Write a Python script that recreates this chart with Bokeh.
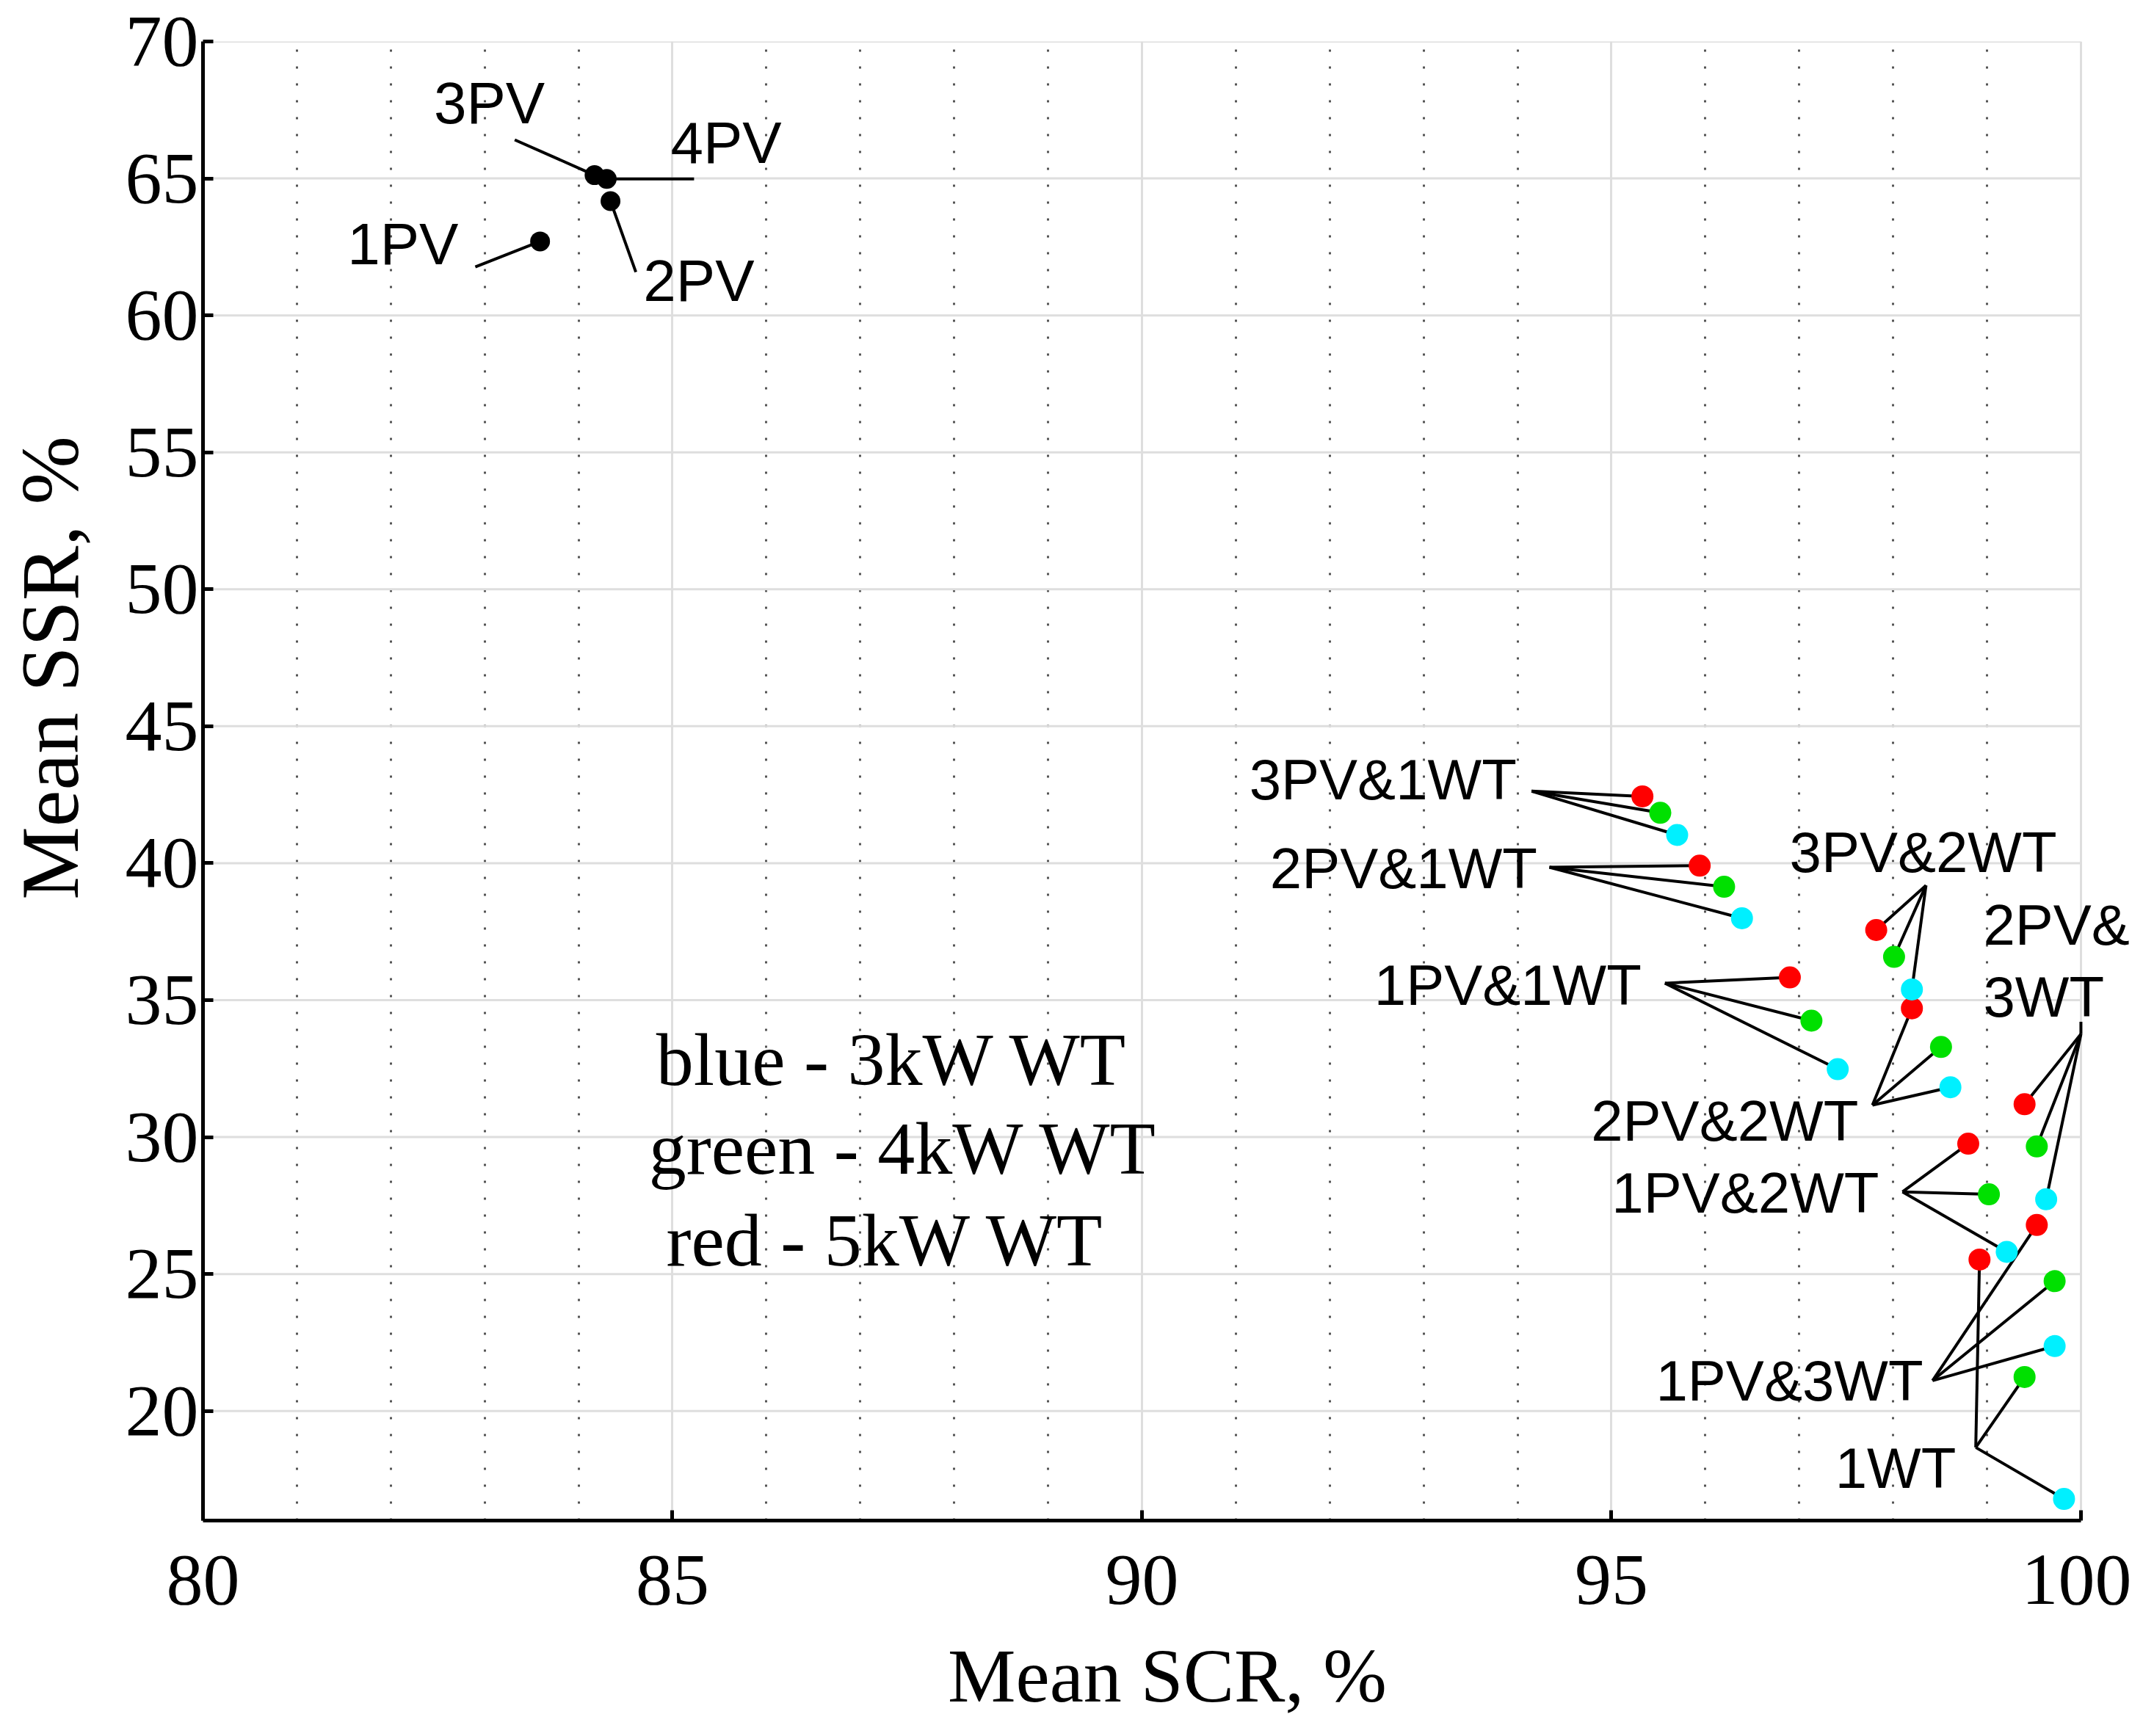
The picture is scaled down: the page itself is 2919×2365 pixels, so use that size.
from bokeh.plotting import figure
from bokeh.models import Range1d, FixedTicker
from bokeh.core.properties import value
from bokeh.embed import file_html
from bokeh.resources import INLINE

# 1. data
groups = ["3PV&1WT", "2PV&1WT", "1PV&1WT", "3PV&2WT", "2PV&2WT",
          "1PV&2WT", "2PV&3WT", "1PV&3WT", "1WT"]

# red - 5kW WT
scr_5kw = [95.33, 95.94, 96.90, 97.82, 98.20, 98.80, 99.40, 99.53, 98.92]
ssr_5kw = [42.44, 39.91, 35.83, 37.56, 34.70, 29.76, 31.20, 26.79, 25.53]
# green - 4kW WT
scr_4kw = [95.52, 96.20, 97.13, 98.01, 98.51, 99.02, 99.53, 99.72, 99.40]
ssr_4kw = [41.84, 39.14, 34.25, 36.58, 33.29, 27.91, 29.66, 24.74, 21.24]
# blue - 3kW WT
scr_3kw = [95.70, 96.39, 97.41, 98.20, 98.61, 99.21, 99.63, 99.72, 99.82]
ssr_3kw = [41.03, 37.99, 32.48, 35.39, 31.82, 25.81, 27.73, 22.37, 16.79]

# where the leader lines of each group meet
anchor_x = [94.15, 94.34, 95.57, 98.35, 97.78, 98.10, 100.0, 98.42, 98.88]
anchor_y = [42.63, 39.85, 35.62, 39.19, 31.17, 28.00, 33.76, 21.11, 18.67]

# PV only systems
pv_labels = ["1PV", "2PV", "3PV", "4PV"]
pv_scr = [83.59, 84.34, 84.17, 84.30]
pv_ssr = [62.70, 64.17, 65.12, 64.98]
pv_anchor_x = [82.90, 84.61, 83.32, 85.23]
pv_anchor_y = [61.77, 61.58, 66.41, 64.98]

x_ticks = [80, 85, 90, 95, 100]
x_minor = [81, 82, 83, 84, 86, 87, 88, 89, 91, 92, 93, 94, 96, 97, 98, 99]
y_ticks = [20, 25, 30, 35, 40, 45, 50, 55, 60, 65, 70]

SANS = value("Liberation Sans")
SERIF = "Liberation Serif"

# x range runs a bit past 100 so the "2PV&" label is not cut at the frame
p = figure(width=2903, height=2345, output_backend="svg", toolbar_location=None,
           x_range=Range1d(80, 100.54), y_range=Range1d(16, 70),
           min_border_left=276, min_border_right=0, min_border_top=56,
           min_border_bottom=274)
p.outline_line_color = None
p.background_fill_color = "white"

# axes
for ax in (p.xaxis[0], p.yaxis[0]):
    ax.axis_line_color = "black"
    ax.axis_line_width = 5
    ax.major_tick_line_color = "black"
    ax.major_tick_line_width = 5
    ax.major_tick_in = 14
    ax.major_tick_out = 0
    ax.minor_tick_line_color = None
    ax.major_label_text_font = SERIF
    ax.major_label_text_font_size = "100px"
    ax.major_label_text_color = "black"
    ax.axis_label_text_font = SERIF
    ax.axis_label_text_font_style = "normal"
    ax.axis_label_text_color = "black"
p.xaxis.bounds = (80, 100)
p.xaxis.ticker = FixedTicker(ticks=x_ticks)
p.yaxis.ticker = FixedTicker(ticks=y_ticks)
p.xaxis.major_label_standoff = 48
p.yaxis.major_label_standoff = 6
p.xaxis.axis_label = "Mean SCR, %"
p.xaxis.axis_label_text_font_size = "104px"
p.xaxis.axis_label_standoff = 37
# leading no-break spaces lift the y label above the middle, as in the original
p.yaxis.axis_label = "\u00a0" * 11 + "Mean SSR, %"
p.yaxis.axis_label_text_font_size = "112px"
p.yaxis.axis_label_standoff = 38

# grid: light solid lines at the majors, dotted lines every 1 in x
p.xgrid.ticker = FixedTicker(ticks=x_ticks, minor_ticks=x_minor)
p.xgrid.grid_line_color = "#dedede"
p.xgrid.grid_line_width = 3
p.xgrid.minor_grid_line_color = "#555555"
p.xgrid.minor_grid_line_width = 3
p.xgrid.minor_grid_line_dash = "3 20"
p.ygrid.grid_line_color = None
p.segment(x0=[80] * len(y_ticks), y0=y_ticks, x1=[100] * len(y_ticks), y1=y_ticks,
          line_color="#dedede", line_width=3)

# leader lines
xs, ys = [], []
for i in range(len(groups)):
    for sx, sy in ((scr_5kw, ssr_5kw), (scr_4kw, ssr_4kw), (scr_3kw, ssr_3kw)):
        xs.append([anchor_x[i], sx[i]])
        ys.append([anchor_y[i], sy[i]])
for i in range(len(pv_labels)):
    xs.append([pv_anchor_x[i], pv_scr[i]])
    ys.append([pv_anchor_y[i], pv_ssr[i]])
p.multi_line(xs, ys, line_color="black", line_width=4)
# small tick under the "3WT" label
p.line([anchor_x[6], anchor_x[6]], [anchor_y[6], anchor_y[6] + 0.45], line_color="black", line_width=4)

# points
p.scatter(scr_5kw, ssr_5kw, size=30, fill_color="#ff0000", line_color=None)
p.scatter(scr_4kw, ssr_4kw, size=30, fill_color="#00e000", line_color=None)
p.scatter(scr_3kw, ssr_3kw, size=30, fill_color="#00f0ff", line_color=None)
p.scatter(pv_scr, pv_ssr, size=27, fill_color="black", line_color=None)

# group labels (right aligned)
right_names = ["3PV&1WT", "2PV&1WT", "1PV&1WT", "2PV&2WT", "1PV&2WT", "1PV&3WT", "1WT"]
right_x = [93.99, 94.21, 95.32, 97.63, 97.85, 98.32, 98.67]
right_y = [43.05, 39.81, 35.55, 30.60, 27.97, 21.11, 17.91]
p.text(right_x, right_y, text=right_names, text_align="right", text_baseline="middle",
       text_font=SANS, text_font_size="78px", text_color="black")
p.text([98.32], [40.41], text=["3PV&2WT"], text_align="center", text_baseline="middle",
       text_font=SANS, text_font_size="78px", text_color="black")
p.text([98.96, 98.96], [37.74, 35.11], text=["2PV&", "3WT"], text_align="left",
       text_baseline="middle", text_font=SANS, text_font_size="78px", text_color="black")

# PV labels
p.text([82.72], [62.60], text=["1PV"], text_align="right", text_baseline="middle",
       text_font=SANS, text_font_size="80px", text_color="black")
p.text([84.69, 84.98], [61.27, 66.31], text=["2PV", "4PV"], text_align="left",
       text_baseline="middle", text_font=SANS, text_font_size="80px", text_color="black")
p.text([83.05], [67.75], text=["3PV"], text_align="center", text_baseline="middle",
       text_font=SANS, text_font_size="80px", text_color="black")

# colour key
key_text = ["blue - 3kW WT", "green - 4kW WT", "red - 5kW WT"]
key_x = [87.34, 87.46, 87.27]
key_y = [32.82, 29.58, 26.24]
p.text(key_x, key_y, text=key_text, text_align="center", text_baseline="middle",
       text_font=value(SERIF), text_font_size="102px", text_color="black")

open("out.html", "w").write(file_html(p, INLINE))
